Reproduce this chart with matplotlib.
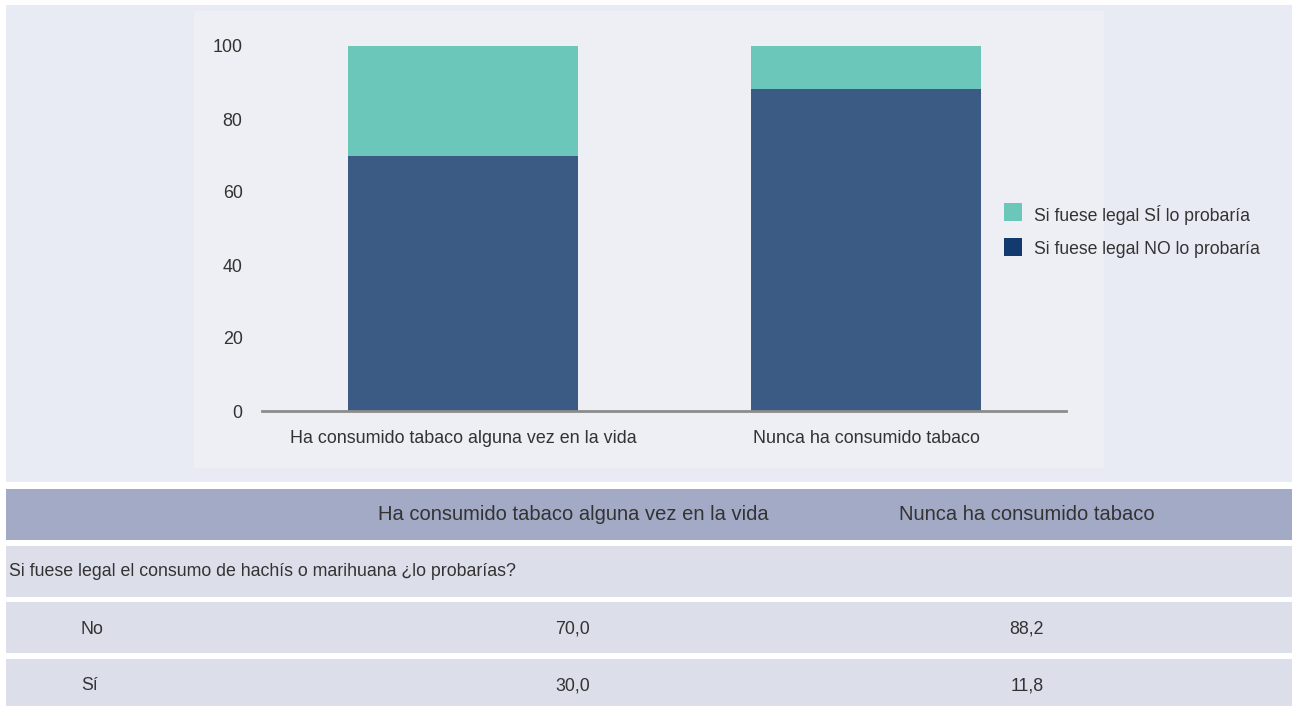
import matplotlib
matplotlib.use("Agg")
import numpy as np
from matplotlib import pyplot as plt
from matplotlib.patches import Rectangle

plt.rcParams['font.family'] = ['Liberation Sans', 'DejaVu Sans']

# data
groups = ["Ha consumido tabaco alguna vez en la vida", "Nunca ha consumido tabaco"]
no_values = [70.0, 88.2]
si_values = [30.0, 11.8]
legend_labels = ["Si fuese legal SÍ lo probaría", "Si fuese legal NO lo probaría"]
question = "Si fuese legal el consumo de hachís o marihuana ¿lo probarías?"
row_labels = ["No", "Sí"]
yticks = [0, 20, 40, 60, 80, 100]

W, H = 1292, 706
fig = plt.figure(figsize=(W / 100, H / 100), dpi=100, facecolor="white")

def box(x0, y0, x1, y1, color):
    # pixel coords (top-left origin) -> figure coords
    fig.patches.append(Rectangle((x0 / W, 1 - y1 / H), (x1 - x0) / W, (y1 - y0) / H,
                                 transform=fig.transFigure, facecolor=color,
                                 edgecolor="none", zorder=-10))

def ftext(x, y, s, **kw):
    fig.text(x / W, 1 - y / H, s, va="center", color="#333333", **kw)

# chart panels
box(6, 5, 1292, 482, "#e9ebf4")
box(194, 11, 1104, 468, "#eeeff4")

ax = fig.add_axes([262 / W, 1 - 411 / H, (1066 - 262) / W, (411 - 46) / H])
ax.set_facecolor("none")
x = np.arange(len(groups))
ax.bar(x, no_values, width=0.571, color="#3b5b84", zorder=2)
ax.bar(x, si_values, bottom=no_values, width=0.571, color="#6bc7ba", zorder=2)
ax.set_xlim(-0.499, 1.496)
ax.set_ylim(0, 100)
ax.set_yticks(yticks)
ax.set_xticks(x)
ax.set_xticklabels(groups)
ax.tick_params(axis="both", length=0, labelsize=12.9, labelcolor="#333333")
ax.tick_params(axis="y", pad=14)
ax.tick_params(axis="x", pad=14)
for s in ["top", "right", "left"]:
    ax.spines[s].set_visible(False)
ax.spines["bottom"].set_color("#8c8c8c")
ax.spines["bottom"].set_linewidth(2)
ax.spines["bottom"].set_zorder(3)

# legend
leg_colors = ["#6bc7ba", "#123a6e"]
for i, (lab, c) in enumerate(zip(legend_labels, leg_colors)):
    yc = 212 + i * 35
    box(1004, yc - 9, 1022, yc + 9, c)
    ftext(1034, yc + 3, lab, fontsize=12.7, ha="left")

# table
box(6, 489, 1292, 540, "#a3aac6")
box(6, 546, 1292, 597, "#dcdeea")
box(6, 602, 1292, 653, "#dcdeea")
box(6, 659, 1292, 706, "#dcdeea")
col_x = [573, 1027]
for cx, g in zip(col_x, groups):
    ftext(cx, 515, g, fontsize=14.5, ha="center")
ftext(9, 572, question, fontsize=12.8, ha="left")
for ry, lab, vals in zip([629, 686], row_labels, [no_values, si_values]):
    ftext(81, ry, lab, fontsize=12.8, ha="left")
    for cx, v in zip(col_x, vals):
        ftext(cx, ry, f"{v:.1f}".replace(".", ","), fontsize=12.8, ha="center")

fig.savefig("out.png", dpi=100, facecolor="white")
